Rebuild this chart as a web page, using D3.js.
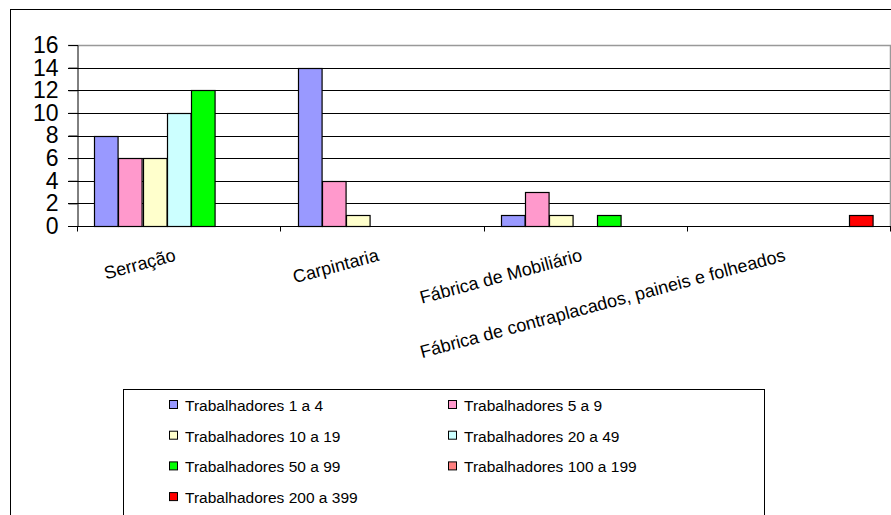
<!DOCTYPE html>
<html lang="pt">
  <head>
    <meta charset="UTF-8">
    <title>Trabalhadores por sector</title>
    <style>
body {margin: 0; background: #fff;}
text {font-family: "Liberation Sans", Arial, sans-serif; fill: #000;}
</style>
  </head>
  <body>
<div id="my_dataviz"></div>
<script src="https://d3js.org/d3.v7.min.js"></script>
<script>

// categories and series
var categories = ["Serração", "Carpintaria", "Fábrica de Mobiliário",
  "Fábrica de contraplacados, paineis e folheados"];

var series = ["Trabalhadores 1 a 4", "Trabalhadores 5 a 9", "Trabalhadores 10 a 19",
  "Trabalhadores 20 a 49", "Trabalhadores 50 a 99", "Trabalhadores 100 a 199",
  "Trabalhadores 200 a 399"];

var colors = ["#9999ff", "#ff99cc", "#ffffcc", "#ccffff", "#00ff00", "#ff8080", "#ff0000"];

// values per series, one per category
var t1a4 = [8, 14, 1, 0];
var t5a9 = [6, 4, 3, 0];
var t10a19 = [6, 1, 1, 0];
var t20a49 = [10, 0, 0, 0];
var t50a99 = [12, 0, 1, 0];
var t100a199 = [0, 0, 0, 0];
var t200a399 = [0, 0, 0, 1];
var values = [t1a4, t5a9, t10a19, t20a49, t50a99, t100a199, t200a399];

var yTicks = [0, 2, 4, 6, 8, 10, 12, 14, 16];

var W = 891, H = 515;
var pLeft = 77, pRight = 890, pTop = 45, pBottom = 226;

var svg = d3.select("#my_dataviz")
  .append("svg")
    .attr("width", W)
    .attr("height", H);

// chart area frame (runs off the page right and bottom)
svg.append("rect")
  .attr("x", 10.5).attr("y", 9.5)
  .attr("width", 1000).attr("height", 1000)
  .attr("fill", "none").attr("stroke", "#000");

var x0 = d3.scaleBand()
  .domain(categories)
  .range([pLeft, pRight])
  .padding(0);

var x1 = d3.scaleBand()
  .domain(series)
  .range([0, x0.bandwidth()])
  .paddingInner(0)
  .paddingOuter(0.72);

var y = d3.scaleLinear()
  .domain([0, 16])
  .range([pBottom, pTop]);

// gridlines
svg.append("g")
  .selectAll("line")
  .data(yTicks.filter(function(d) { return d > 0 && d < 16; }))
  .enter().append("line")
    .attr("x1", pLeft - 9).attr("x2", pRight)
    .attr("y1", function(d) { return Math.round(y(d)) + 0.5; })
    .attr("y2", function(d) { return Math.round(y(d)) + 0.5; })
    .attr("stroke", "#000");

// plot area border (top, right) in grey
svg.append("path")
  .attr("d", "M" + (pLeft - 9) + "," + (pTop + 0.5) + "H" + (pRight + 0.5) + "V" + pBottom)
  .attr("fill", "none")
  .attr("stroke", "#999")
  .attr("stroke-width", 1.5);

// bars
var groups = svg.append("g")
  .selectAll("g")
  .data(series)
  .enter().append("g")
    .attr("fill", function(d, i) { return colors[i]; });

groups.selectAll("rect")
  .data(function(s, i) {
    return values[i].map(function(v, j) { return {s: s, c: categories[j], v: v}; });
  })
  .enter().append("rect")
    .filter(function(d) { return d.v > 0; })
    .attr("x", function(d) { return Math.round(x0(d.c) + x1(d.s)) + 0.5; })
    .attr("y", function(d) { return Math.round(y(d.v)) + 0.5; })
    .attr("width", x1.bandwidth() - 0.5)
    .attr("height", function(d) { return Math.round(y(0)) - Math.round(y(d.v)); })
    .attr("stroke", "#000")
    .attr("stroke-width", 1.2);

// y axis
var yAxis = svg.append("g")
  .attr("transform", "translate(" + (pLeft + 0.5) + ",0)")
  .call(d3.axisLeft(y).tickValues(yTicks).tickSize(9).tickPadding(10));
yAxis.select(".domain").attr("stroke", "#000");
yAxis.selectAll("text")
  .style("font-size", "23px")
  .attr("font-family", null);

// x axis
var xAxis = svg.append("g")
  .attr("transform", "translate(0," + (Math.round(pBottom) + 0.5) + ")");
xAxis.append("line")
  .attr("x1", pLeft - 9).attr("x2", pRight + 1)
  .attr("stroke", "#000");
xAxis.selectAll(".tk")
  .data(categories.concat(["end"]))
  .enter().append("line")
    .attr("class", "tk")
    .attr("x1", function(d, i) { return Math.round(pLeft + i * x0.step()) + 0.5; })
    .attr("x2", function(d, i) { return Math.round(pLeft + i * x0.step()) + 0.5; })
    .attr("y1", 0).attr("y2", 5)
    .attr("stroke", "#000");

xAxis.selectAll(".lbl")
  .data(categories)
  .enter().append("text")
    .attr("class", "lbl")
    .attr("text-anchor", "end")
    .style("font-size", "18px")
    .attr("transform", function(d) {
      return "translate(" + (x0(d) + x0.bandwidth() / 2 - 2) + ",34) rotate(-15)";
    })
    .text(function(d) { return d; });

// legend
var legend = svg.append("g");
legend.append("rect")
  .attr("x", 123.5).attr("y", 389.5)
  .attr("width", 641).attr("height", 300)
  .attr("fill", "none").attr("stroke", "#000");

var items = legend.selectAll(".item")
  .data(series)
  .enter().append("g")
    .attr("class", "item")
    .attr("transform", function(d, i) {
      return "translate(" + (i % 2 === 0 ? 169 : 448) + "," + (405 + Math.floor(i / 2) * 30.7) + ")";
    });

items.append("rect")
  .attr("x", 0.5).attr("y", -4.5)
  .attr("width", 8).attr("height", 8)
  .attr("fill", function(d, i) { return colors[i]; })
  .attr("stroke", "#000");

items.append("text")
  .attr("x", 16)
  .attr("y", 6)
  .style("font-size", "15.5px")
  .text(function(d) { return d; });

</script>
  </body>
</html>
